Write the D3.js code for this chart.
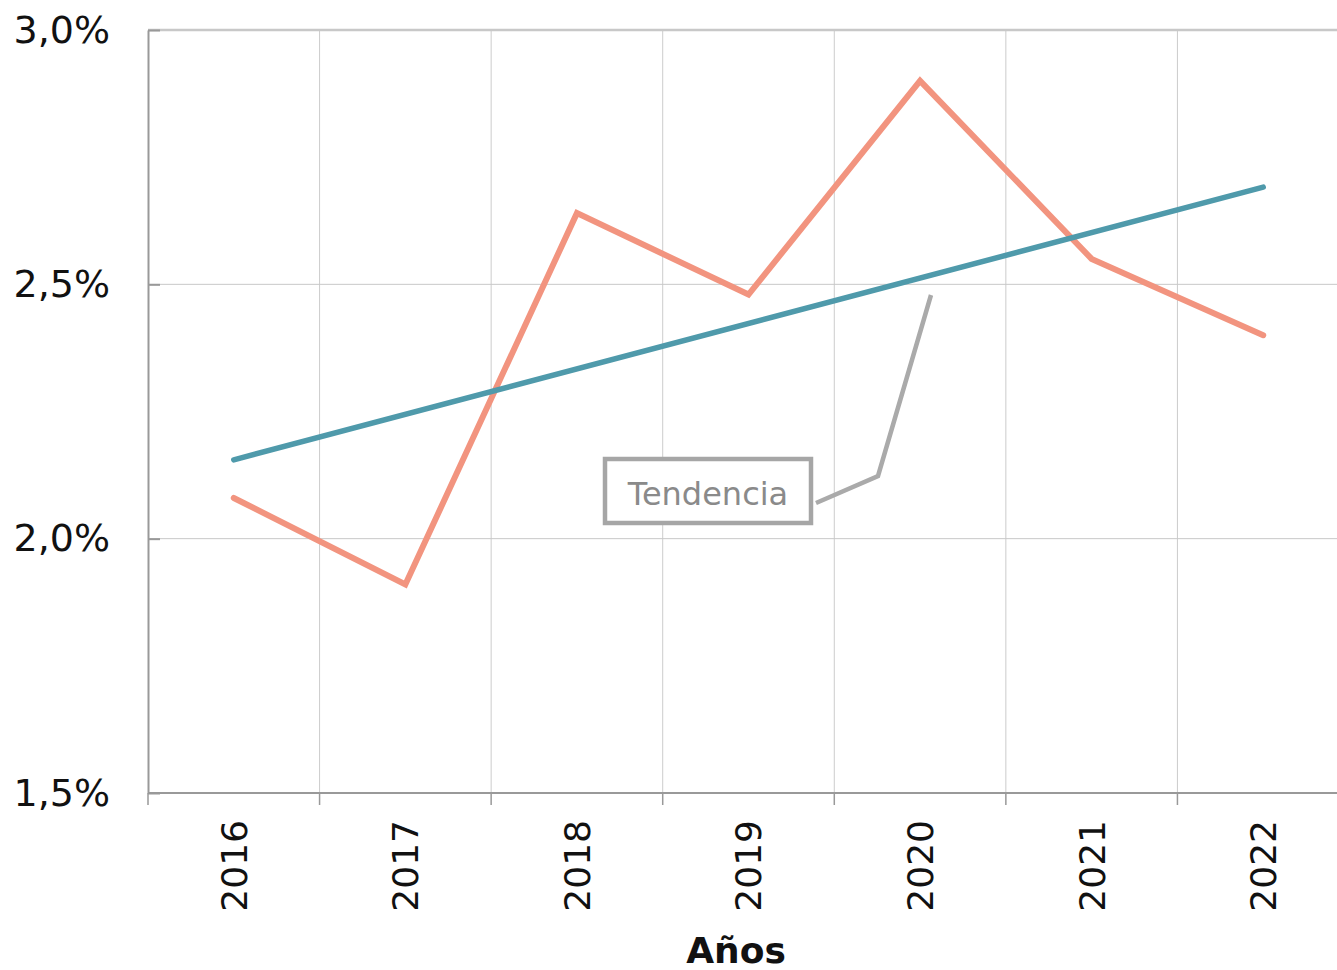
<!DOCTYPE html>
<html>
<head>
<meta charset="utf-8">
<script src="https://cdn.jsdelivr.net/npm/d3@7"></script>
<style>
  body { margin: 0; background: #fff; }
  svg { display: block; font-family: "DejaVu Sans", Verdana, sans-serif; }
</style>
</head>
<body>
<div id="chart"></div>
<script>
const years = ["2016", "2017", "2018", "2019", "2020", "2021", "2022"];
const values = [2.08, 1.91, 2.64, 2.48, 2.90, 2.55, 2.40];
const trendYears = ["2016", "2022"];
const trendValues = [2.155, 2.691];
const yTicks = [1.5, 2.0, 2.5, 3.0];
const axisTitle = "Años";
const noteLabel = "Tendencia";

const width = 1337;
const height = 970;
const margin = { top: 30, left: 148, bottom: 177 };

const svg = d3
  .select("#chart")
  .append("svg")
  .attr("width", width)
  .attr("height", height);

// the plot runs a little past the right edge of the picture
const x = d3.scaleBand().domain(years).range([margin.left, 1349]);
const xc = (d) => x(d) + x.bandwidth() / 2;
const y = d3.scaleLinear().domain([1.5, 3.0]).range([height - margin.bottom, margin.top]);

const fmt = (v) => d3.format(".1f")(v).replace(".", ",") + "%";

// grid
svg
  .append("g")
  .selectAll("line")
  .data(years.slice(1))
  .enter()
  .append("line")
  .attr("x1", (d) => x(d))
  .attr("x2", (d) => x(d))
  .attr("y1", y(3.0))
  .attr("y2", y(1.5))
  .attr("stroke", "#cccccc")
  .attr("stroke-width", 1);

svg
  .append("g")
  .selectAll("line")
  .data(yTicks.slice(1))
  .enter()
  .append("line")
  .attr("x1", margin.left)
  .attr("x2", 1349)
  .attr("y1", (d) => y(d))
  .attr("y2", (d) => y(d))
  .attr("stroke", "#c8c8c8")
  .attr("stroke-width", (d) => (d === 3.0 ? 2.5 : 1));

// axes
const yAxis = svg
  .append("g")
  .attr("transform", "translate(" + margin.left + ",0)")
  .call(d3.axisLeft(y).tickValues(yTicks).tickFormat(fmt).tickSizeInner(-12).tickSizeOuter(0).tickPadding(38));
yAxis.select(".domain").attr("stroke", "#999999").attr("stroke-width", 2);
yAxis.selectAll(".tick line").attr("stroke", "#999999").attr("stroke-width", 2);
yAxis
  .selectAll("text")
  .attr("x", -38)
  .attr("font-size", 38)
  .attr("fill", "#111")
  .attr("font-family", "DejaVu Sans, sans-serif");

const xAxis = svg
  .append("g")
  .attr("transform", "translate(0," + y(1.5) + ")");
xAxis
  .append("line")
  .attr("x1", margin.left)
  .attr("x2", 1349)
  .attr("stroke", "#999999")
  .attr("stroke-width", 2);
xAxis
  .selectAll(".tick")
  .data(years)
  .enter()
  .append("line")
  .attr("x1", (d) => x(d))
  .attr("x2", (d) => x(d))
  .attr("y1", 0)
  .attr("y2", 12)
  .attr("stroke", "#999999")
  .attr("stroke-width", 1.5);
xAxis
  .selectAll("text")
  .data(years)
  .enter()
  .append("text")
  .attr("transform", (d) => "translate(" + xc(d) + ",27) rotate(-90)")
  .attr("text-anchor", "end")
  .attr("dy", "0.36em")
  .attr("font-size", 36)
  .attr("fill", "#111")
  .text((d) => d);

svg
  .append("text")
  .attr("x", 736)
  .attr("y", 963)
  .attr("text-anchor", "middle")
  .attr("font-size", 36)
  .attr("font-weight", "bold")
  .attr("fill", "#111")
  .text(axisTitle);

// series
const line = d3
  .line()
  .x((d, i) => xc(years[i]))
  .y((d) => y(d));

svg
  .append("path")
  .attr("d", line(values))
  .attr("fill", "none")
  .attr("stroke", "#f2947f")
  .attr("stroke-width", 6)
  .attr("stroke-linecap", "round")
  .attr("stroke-linejoin", "miter");

svg
  .append("path")
  .attr(
    "d",
    d3
      .line()
      .x((d, i) => xc(trendYears[i]))
      .y((d) => y(d))(trendValues)
  )
  .attr("fill", "none")
  .attr("stroke", "#4f9aab")
  .attr("stroke-width", 5.5)
  .attr("stroke-linecap", "round");

// annotation
const note = svg.append("g");
note
  .append("polyline")
  .attr("points", "816,503 878,476 931,295")
  .attr("fill", "none")
  .attr("stroke", "#aaaaaa")
  .attr("stroke-width", 4.5);
note
  .append("rect")
  .attr("x", 605)
  .attr("y", 459)
  .attr("width", 206)
  .attr("height", 64)
  .attr("fill", "#fff")
  .attr("stroke", "#a6a6a6")
  .attr("stroke-width", 4.5);
note
  .append("text")
  .attr("x", 708)
  .attr("y", 505)
  .attr("text-anchor", "middle")
  .attr("font-size", 32)
  .attr("fill", "#8a8a8a")
  .text(noteLabel);
</script>
</body>
</html>
